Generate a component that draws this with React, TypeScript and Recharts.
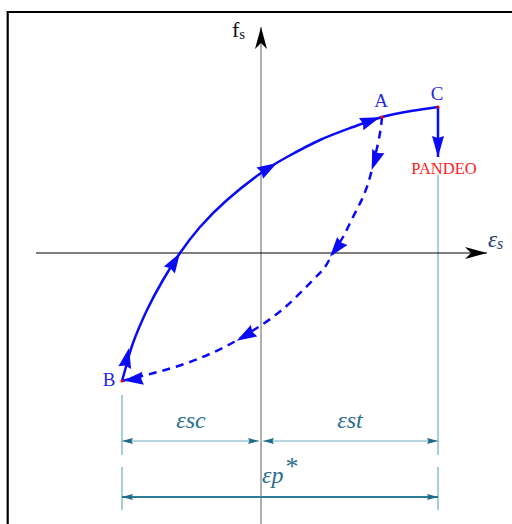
import React from 'react';
import { LineChart, Line, XAxis, YAxis, ReferenceDot } from 'recharts';

// strain (x) / stress (y) in drawing units, origin at the axes crossing
const pointA = { x: 12.1, y: 13.6 };
const pointB = { x: -13.9, y: -12.8 };
const pointC = { x: 17.7, y: 14.6 };

// loading branch B -> A -> C
const loadingPath = [
  pointB,
  { x: -13.4, y: -11.0 },
  { x: -12.8, y: -9.0 },
  { x: -11.4, y: -5.7 },
  { x: -9.8, y: -2.7 },
  { x: -8.1, y: 0 },
  { x: -6.1, y: 2.6 },
  { x: -3.4, y: 5.3 },
  { x: 0, y: 8.0 },
  { x: 2.6, y: 9.6 },
  { x: 5.9, y: 11.3 },
  { x: 9.2, y: 12.6 },
  pointA,
  { x: 15.0, y: 14.2 },
  pointC,
];

// unloading branch A -> B
const unloadingPath = [
  pointA,
  { x: 11.9, y: 12.0 },
  { x: 11.4, y: 9.6 },
  { x: 10.9, y: 7.6 },
  { x: 10.2, y: 5.6 },
  { x: 9.2, y: 3.6 },
  { x: 8.2, y: 1.6 },
  { x: 7.2, y: 0 },
  { x: 6.4, y: -1.4 },
  { x: 5.2, y: -2.7 },
  { x: 3.2, y: -4.7 },
  { x: 1.2, y: -6.4 },
  { x: -0.8, y: -7.75 },
  { x: -2.8, y: -8.95 },
  { x: -4.8, y: -9.95 },
  { x: -7.1, y: -10.9 },
  { x: -9.6, y: -11.7 },
  { x: -11.7, y: -12.25 },
  { x: -13.5, y: -12.7 },
  pointB,
];

// direction arrows along the branches: [tail, tip]
const loadingArrows = [
  [{ x: -13.85, y: -12.5 }, { x: -13.2, y: -9.5 }],
  [{ x: -9.8, y: -2.7 }, { x: -8.1, y: 0 }],
  [{ x: -0.1, y: 8.0 }, { x: 1.6, y: 9.0 }],
  [{ x: 9.2, y: 12.6 }, { x: 11.9, y: 13.57 }],
];
const unloadingArrows = [
  [{ x: 11.7, y: 10.1 }, { x: 11.07, y: 8.3 }],
  [{ x: 8.2, y: 1.3 }, { x: 6.9, y: -0.37 }],
  [{ x: -0.27, y: -7.53 }, { x: -2.43, y: -8.77 }],
  [{ x: -11.6, y: -12.5 }, { x: -13.77, y: -12.75 }],
];
const bucklingArrow = [pointC, { x: 17.7, y: 9.6 }];

const strainAxis = [{ x: -22.5, y: 0 }, { x: 22.6, y: 0 }];
const stressAxis = [{ x: 0, y: -27.1 }, { x: 0, y: 22.6 }];
const frame = [{ x: -25.33, y: -40 }, { x: -25.33, y: 24.1 }, { x: 40, y: 24.1 }];

// dimension lines
const extLines = [
  [{ x: pointB.x, y: -14.2 }, { x: pointB.x, y: -20.2 }],
  [{ x: pointB.x, y: -21.4 }, { x: pointB.x, y: -25.7 }],
  [{ x: pointC.x, y: 7.8 }, { x: pointC.x, y: -20.2 }],
  [{ x: pointC.x, y: -21.4 }, { x: pointC.x, y: -25.7 }],
];
const dimCompression = [{ x: pointB.x, y: -18.8 }, { x: -0.2, y: -18.8 }];
const dimTension = [{ x: 0.2, y: -18.8 }, { x: pointC.x, y: -18.8 }];
const dimTotal = [{ x: pointB.x, y: -24.4 }, { x: pointC.x, y: -24.4 }];

const pointLabels = [
  { text: 'A', x: 12.0, y: 14.6 },
  { text: 'C', x: 17.6, y: 15.3 },
  { text: 'B', x: -15.2, y: -13.3 },
];
const bucklingLabel = { text: 'PANDEO', x: 18.3, y: 7.9 };

const BLUE = '#0a0af5';
const TEAL_LIGHT = '#6eadc0';
const TEAL_DARK = '#2a7c97';
const TEAL_HEAD = '#1d6b86';
const TEAL_TEXT = '#2b6f8d';
const SERIF = '"Liberation Serif", "DejaVu Serif", serif';

const textAt = (key: string, x: number, y: number, node: React.ReactNode) => (
  <ReferenceDot
    key={key}
    x={x}
    y={y}
    r={0}
    ifOverflow="visible"
    shape={(p: any) => <g transform={`translate(${p.cx},${p.cy})`}>{node}</g>}
  />
);

const seg = (key: string, data: any[], stroke: string, width: number, extra: any = {}) => (
  <Line
    key={key}
    data={data}
    dataKey="y"
    type="linear"
    stroke={stroke}
    strokeWidth={width}
    dot={false}
    activeDot={false}
    isAnimationActive={false}
    {...extra}
  />
);

export default function App() {
  return (
    <div style={{ position: 'absolute', left: 0, top: 0, width: 512, height: 524, overflow: 'hidden', background: '#fff' }}>
      <LineChart width={512} height={524} margin={{ top: 0, right: 0, bottom: 0, left: 0 }}>
        <defs>
          <marker id="headBlue" markerUnits="userSpaceOnUse" markerWidth={22} markerHeight={14} refX={20} refY={6.5} orient="auto" overflow="visible">
            <path d="M0,0 L20,6.5 L0,13 L2,6.5 Z" fill={BLUE} />
          </marker>
          <marker id="headBlueBig" markerUnits="userSpaceOnUse" markerWidth={22} markerHeight={14} refX={21} refY={6} orient="auto" overflow="visible">
            <path d="M0,0 L21,6 L0,12 L2,6 Z" fill={BLUE} />
          </marker>
          <marker id="headAxis" markerUnits="userSpaceOnUse" markerWidth={24} markerHeight={14} refX={22} refY={6} orient="auto" overflow="visible">
            <path d="M0,0 L22,6 L0,12 L6,6 Z" fill="#000" />
          </marker>
          <marker id="headDim" markerUnits="userSpaceOnUse" markerWidth={12} markerHeight={8} refX={11} refY={3} orient="auto-start-reverse" overflow="visible">
            <path d="M0,0 L11,3 L0,6 L1.5,3 Z" fill={TEAL_HEAD} />
          </marker>
        </defs>
        <XAxis type="number" dataKey="x" domain={[-26.1, 25.1]} hide allowDataOverflow />
        <YAxis type="number" dataKey="y" domain={[-27.1, 25.3]} hide allowDataOverflow />

        {seg('frame', frame, '#000', 2.2)}

        {extLines.map((d, i) => seg(`ext${i}`, d, TEAL_LIGHT, 1.2))}
        {seg('dimSc', dimCompression, TEAL_LIGHT, 1.2, { markerStart: 'url(#headDim)', markerEnd: 'url(#headDim)' })}
        {seg('dimSt', dimTension, TEAL_LIGHT, 1.2, { markerStart: 'url(#headDim)', markerEnd: 'url(#headDim)' })}
        {seg('dimP', dimTotal, TEAL_DARK, 1.8, { markerStart: 'url(#headDim)', markerEnd: 'url(#headDim)' })}

        {seg('axisY', stressAxis, '#7a7a7a', 1.2, { markerEnd: 'url(#headAxis)' })}
        {seg('axisX', strainAxis, '#000', 1.2, { markerEnd: 'url(#headAxis)' })}

        <Line data={loadingPath} dataKey="y" type="natural" stroke={BLUE} strokeWidth={2.5} dot={false} activeDot={false} isAnimationActive={false} />
        <Line data={unloadingPath} dataKey="y" type="natural" stroke={BLUE} strokeWidth={2.5} strokeDasharray="8 6" dot={false} activeDot={false} isAnimationActive={false} />

        {[...loadingArrows, ...unloadingArrows].map((d, i) =>
          seg(`arr${i}`, d, 'transparent', 2, { markerEnd: 'url(#headBlue)' })
        )}
        {seg('buckle', bucklingArrow, BLUE, 2.5, { markerEnd: 'url(#headBlueBig)' })}

        {[pointA, pointB, pointC].map((p, i) => (
          <ReferenceDot key={`pt${i}`} x={p.x} y={p.y} r={1.6} fill="#ff0000" stroke="none" />
        ))}

        {pointLabels.map((l) =>
          textAt(`lbl${l.text}`, l.x, l.y,
            <text textAnchor="middle" fontFamily={SERIF} fontSize={19} fill="#2828e6">{l.text}</text>)
        )}
        {textAt('pandeo', bucklingLabel.x, bucklingLabel.y,
          <text textAnchor="middle" fontFamily={SERIF} fontSize={16.5} fill="#ff1a1a">{bucklingLabel.text}</text>)}

        {textAt('fs', -2.9, 21.6,
          <text fontFamily={SERIF} fontSize={22} fill="#111">f<tspan fontSize={15} dy={2}>s</tspan></text>)}
        {textAt('es', 22.7, 0.6,
          <text fontFamily={SERIF} fontStyle="italic" fontSize={23} fill="#1f3d6e">ε<tspan fontSize={16} dy={2}>s</tspan></text>)}

        {textAt('esc', -7.0, -17.5,
          <text textAnchor="middle" fontFamily={SERIF} fontStyle="italic" fontSize={24} fill={TEAL_TEXT}>εsc</text>)}
        {textAt('est', 8.9, -17.5,
          <text textAnchor="middle" fontFamily={SERIF} fontStyle="italic" fontSize={24} fill={TEAL_TEXT}>εst</text>)}
        {textAt('ep', 0.1, -23.0,
          <text fontFamily={SERIF} fontStyle="italic" fontSize={24} fill={TEAL_TEXT}>εp<tspan fontSize={26} dx={2} dy={-8} fontStyle="normal">*</tspan></text>)}
      </LineChart>
    </div>
  );
}
